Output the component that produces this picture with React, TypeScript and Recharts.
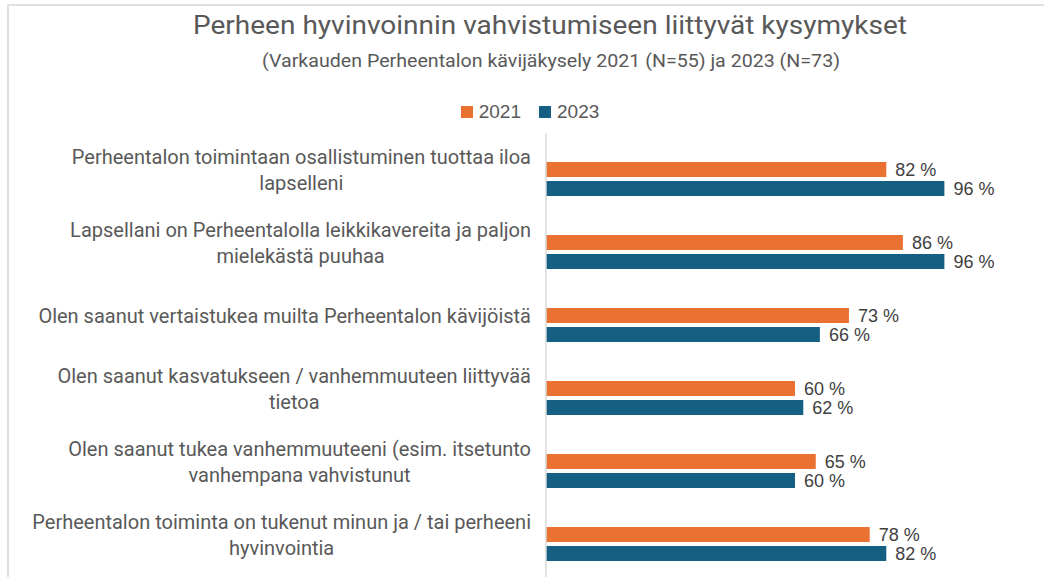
import React from 'react';
import { BarChart, Bar, XAxis, YAxis, LabelList, Legend } from 'recharts';

const categories = [
  'Perheentalon toimintaan osallistuminen tuottaa iloa\nlapselleni',
  'Lapsellani on Perheentalolla leikkikavereita ja paljon\nmielekästä puuhaa',
  'Olen saanut vertaistukea muilta Perheentalon kävijöistä',
  'Olen saanut kasvatukseen / vanhemmuuteen liittyvää\ntietoa',
  'Olen saanut tukea vanhemmuuteeni (esim. itsetunto\nvanhempana vahvistunut',
  'Perheentalon toiminta on tukenut minun ja / tai perheeni\nhyvinvointia',
];
const values2021 = [82, 86, 73, 60, 65, 78];
const values2023 = [96, 96, 66, 62, 60, 82];
const seriesNames = ['2021', '2023'];
const seriesColors = ['#E97132', '#156082'];

const TITLE = 'Perheen hyvinvoinnin vahvistumiseen liittyvät kysymykset';
const SUBTITLE = '(Varkauden Perheentalon kävijäkysely 2021 (N=55) ja 2023 (N=73)';

const data = categories.map((c, i) => ({
  category: c,
  v2021: values2021[i],
  v2023: values2023[i],
}));

const LABEL_FONT_FAMILY = 'Roboto, "Open Sans", sans-serif';
const LABEL_FONT_SIZE = 20;

let ctx: CanvasRenderingContext2D | null = null;
function measure(text: string, font: string): number {
  if (!ctx && typeof document !== 'undefined') {
    ctx = document.createElement('canvas').getContext('2d');
  }
  if (!ctx) return text.length * 9;
  ctx.font = font;
  return ctx.measureText(text).width;
}

const CategoryTick = (props: any) => {
  const { x, y, payload } = props;
  const lines = String(payload.value).split('\n');
  const font = `${LABEL_FONT_SIZE}px Roboto`;
  const widths = lines.map((l) => measure(l, font));
  const maxW = Math.max(...widths);
  const cx = x - maxW / 2;
  const lh = 26;
  const startY = y - 9 - ((lines.length - 1) * lh) / 2;
  return (
    <g>
      {lines.map((l, i) => (
        <text
          key={i}
          x={cx}
          y={startY + i * lh}
          textAnchor="middle"
          dominantBaseline="central"
          fill="#595959"
          style={{ fontFamily: LABEL_FONT_FAMILY, fontSize: LABEL_FONT_SIZE }}
        >
          {l}
        </text>
      ))}
    </g>
  );
};

const LegendContent = (props: any) => {
  const { payload } = props;
  return (
    <div
      style={{
        display: 'flex',
        justifyContent: 'center',
        alignItems: 'center',
        fontFamily: '"Liberation Sans", Arial, sans-serif',
        fontSize: 19,
        color: '#595959',
        lineHeight: '22px',
        paddingLeft: 16,
      }}
    >
      {(payload || []).map((p: any, i: number) => (
        <div
          key={i}
          style={{ display: 'flex', alignItems: 'center', marginLeft: i === 0 ? 0 : 18 }}
        >
          <span
            style={{ display: 'inline-block', width: 12, height: 12, background: p.color, marginRight: 6 }}
          />
          <span>{p.value}</span>
        </div>
      ))}
    </div>
  );
};

const pct = (v: any) => `${v} %`;

export default function App() {
  return (
    <div
      style={{
        position: 'fixed',
        left: 0,
        top: 0,
        width: 1044,
        height: 577,
        overflow: 'hidden',
        background: '#ffffff',
      }}
    >
      <div
        style={{
          position: 'absolute',
          left: 7,
          top: 4,
          width: 1200,
          height: 800,
          border: '2px solid #E0E0E0',
          boxSizing: 'border-box',
        }}
      />
      <svg
        width={1044}
        height={100}
        style={{ position: 'absolute', left: 0, top: 0, pointerEvents: 'none' }}
      >
        <text
          x={550}
          y={34}
          textAnchor="middle"
          fill="#595959"
          textLength={714}
          lengthAdjust="spacingAndGlyphs"
          style={{ fontFamily: LABEL_FONT_FAMILY, fontSize: 25 }}
        >
          {TITLE}
        </text>
        <text
          x={551}
          y={67}
          textAnchor="middle"
          fill="#595959"
          textLength={578}
          lengthAdjust="spacingAndGlyphs"
          style={{ fontFamily: LABEL_FONT_FAMILY, fontSize: 18 }}
        >
          {SUBTITLE}
        </text>
      </svg>
      <div style={{ position: 'absolute', left: 0, top: 0 }}>
        <BarChart
          width={1044}
          height={600}
          data={data}
          layout="vertical"
          margin={{ top: 133, right: 83, bottom: 20, left: 0 }}
          barSize={15}
          barGap={4}
        >
          <XAxis type="number" domain={[0, 100]} hide />
          <YAxis
            type="category"
            dataKey="category"
            width={546}
            padding={{ top: 9, bottom: 0 }}
            axisLine={{ stroke: '#D9D9D9', strokeWidth: 1.5 }}
            tickLine={false}
            tickSize={0}
            tickMargin={15}
            tick={<CategoryTick />}
            interval={0}
          />
          <Legend
            layout="horizontal"
            verticalAlign="middle"
            align="center"
            wrapperStyle={{ top: 101, left: 0, width: 1044, height: 22 }}
            content={<LegendContent />}
          />
          <Bar dataKey="v2021" name={seriesNames[0]} fill={seriesColors[0]} isAnimationActive={false}>
            <LabelList
              dataKey="v2021"
              position="right"
              offset={9}
              formatter={pct}
              style={{ fontFamily: '"Liberation Sans", Arial, sans-serif', fontSize: 18, fill: '#404040' }}
            />
          </Bar>
          <Bar dataKey="v2023" name={seriesNames[1]} fill={seriesColors[1]} isAnimationActive={false}>
            <LabelList
              dataKey="v2023"
              position="right"
              offset={9}
              formatter={pct}
              style={{ fontFamily: '"Liberation Sans", Arial, sans-serif', fontSize: 18, fill: '#404040' }}
            />
          </Bar>
        </BarChart>
      </div>
    </div>
  );
}
